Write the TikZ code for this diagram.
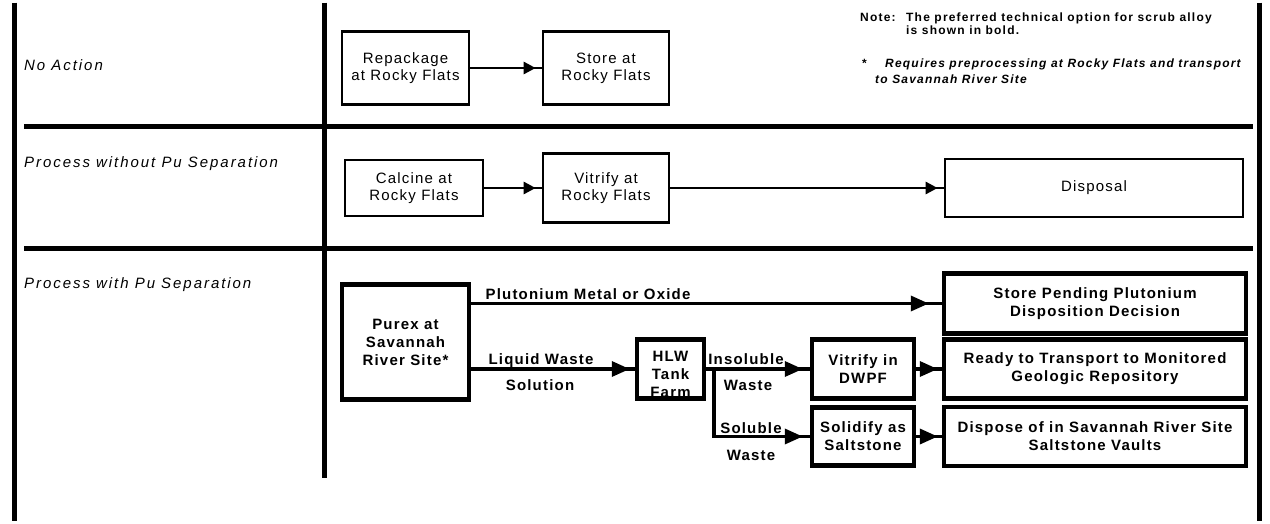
\documentclass[tikz,border=0pt]{standalone}
\usepackage{fontspec}
\setmainfont{Liberation Sans}
\newfontfamily\trackedsans{Liberation Sans}[LetterSpace=8]
\newfontfamily\widesans{Liberation Sans}[LetterSpace=13]
\newfontfamily\notesans{Liberation Sans}[LetterSpace=10]
\usetikzlibrary{arrows.meta,decorations.markings}

\begin{document}
\begin{tikzpicture}[x=1pt,y=-1pt,
  rule/.style={line width=5pt},
  rowlabel/.style={anchor=west,inner sep=0pt,font=\widesans\itshape\fontsize{15}{17}\selectfont},
  thinbox/.style={draw,line width=2.7pt,inner sep=0pt,align=center,font=\trackedsans\fontsize{15}{17}\selectfont},
  boldbox/.style={draw,line width=4.5pt,inner sep=0pt,align=center,font=\trackedsans\bfseries\fontsize{15}{18}\selectfont},
  boldtext/.style={inner sep=0pt,align=center,font=\trackedsans\bfseries\fontsize{15}{18}\selectfont},
  notetext/.style={anchor=west,inner sep=0pt,align=left,font=\notesans\bfseries\fontsize{12}{13}\selectfont},
  noteital/.style={notetext,font=\notesans\bfseries\itshape\fontsize{12}{13}\selectfont},
  thinflow/.style={line width=2.7pt,postaction={decorate},
    decoration={markings,mark=at position -6pt with {\arrow{Triangle[length=12pt,width=12pt]}}}},
  boldflow/.style={line width=3.5pt,postaction={decorate},
    decoration={markings,mark=at position -#1 with {\arrow{Triangle[length=18pt,width=15pt]}}}},
  boldflow/.default=7pt
]
% page
\fill[white] (0,0) rectangle (1270,518);

% table rules
\draw[rule] (14,0) -- (14,518);
\draw[rule] (1259.5,0) -- (1259.5,518);
\draw[rule] (324,0) -- (324,475);
\draw[rule] (24,124) -- (1253,124);
\draw[rule] (24,246) -- (1253,246);

% row headings
\node[rowlabel] (rowa) at (24,63) {No Action};
\node[rowlabel] (rowb) at (24,161) {Process without Pu Separation};
\node[rowlabel] (rowc) at (24,282) {Process with Pu Separation};

% notes
\node[notetext] (notehead) at (860,15) {Note:};
\node[notetext] (notebody) at (906,21.5) {The preferred technical option for scrub alloy\\is shown in bold.};
\node[notetext] (starmark) at (862,61) {*};
\node[noteital] (reqa) at (885,62) {Requires preprocessing at Rocky Flats and transport};
\node[noteital] (reqb) at (875,77) {to Savannah River Site};

% no action
\node[thinbox,minimum width=127pt,minimum height=73pt] (repack) at (405.5,65.5) {Repackage\\at Rocky Flats};
\node[thinbox,minimum width=126pt,minimum height=73pt] (storerf) at (606,65.5) {Store at\\Rocky Flats};
\draw[thinflow] (repack) -- (storerf);

% process without Pu separation
\node[thinbox,minimum width=138pt,minimum height=56pt] (calcine) at (414,185.5) {Calcine at\\Rocky Flats};
\node[thinbox,minimum width=126pt,minimum height=69pt] (vitrf) at (606,185.5) {Vitrify at\\Rocky Flats};
\node[thinbox,minimum width=298pt,minimum height=58pt] (disposal) at (1094,185.5) {Disposal};
\draw[thinflow] (calcine) -- (vitrf);
\draw[thinflow] (vitrf) -- (disposal);

% process with Pu separation
\node[boldbox,minimum width=127pt,minimum height=115pt] (purex) at (405.5,339.5) {Purex at\\Savannah\\River Site*};
\node[boldbox,minimum width=302pt,minimum height=60pt] (storepu) at (1095,301) {Store Pending Plutonium\\Disposition Decision};
\node[boldbox,minimum width=302pt,minimum height=59pt] (ready) at (1095,366.5) {Ready to Transport to Monitored\\Geologic Repository};
\node[boldbox,minimum width=302pt,minimum height=59pt] (dispose) at (1095,434) {Dispose of in Savannah River Site\\Saltstone Vaults};
\node[boldbox,minimum width=102pt,minimum height=59pt] (dwpf) at (863,366.5) {Vitrify in\\DWPF};
\node[boldbox,minimum width=102pt,minimum height=58pt] (salt) at (863,434) {Solidify as\\Saltstone};
\node[boldtext] (hlwtext) at (670.5,372) {HLW\\Tank\\Farm};
\node[boldbox,minimum width=67pt,minimum height=59pt] (hlw) at (670.5,366.5) {};

% flow labels
\node[boldtext] (pulabel) at (588,292) {Plutonium Metal or Oxide};
\node[boldtext] (liqa) at (541,358) {Liquid Waste};
\node[boldtext] (liqb) at (540,383) {Solution};
\node[boldtext] (insa) at (746,357) {Insoluble};
\node[boldtext] (insb) at (748,383) {Waste};
\node[boldtext] (sola) at (751,426) {Soluble};
\node[boldtext] (solb) at (751,453) {Waste};

% flows
\coordinate (split) at (714,366.5);
\draw[boldflow=13pt] (purex.east |- storepu.west) -- (storepu.west);
\draw[boldflow=5pt] (purex.east |- hlw.west) -- (hlw.west);
\draw[boldflow=7pt] (hlw.east) -- (dwpf.west);
\draw[boldflow=7pt] (split) -- (split |- salt.west) -- (salt.west);
\draw[boldflow=4pt] (dwpf.east) -- (ready.west);
\draw[boldflow=4pt] (salt.east) -- (dispose.west);
\end{tikzpicture}
\end{document}
